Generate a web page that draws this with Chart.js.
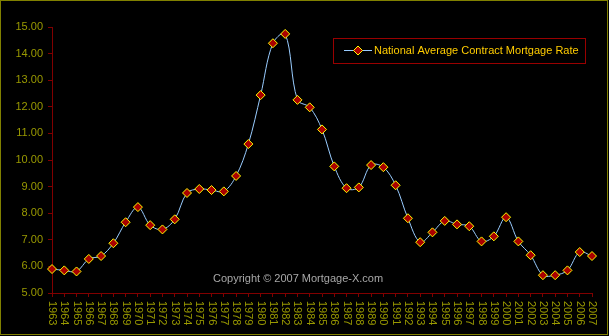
<!DOCTYPE html>
<html lang="en">
<head>
    <meta charset="UTF-8">
    <title>National Average Contract Mortgage Rate</title>
    <script src="https://cdn.jsdelivr.net/npm/chart.js"></script>
    <style>
        body {
            margin: 0;
            background-color: #000;
            overflow: hidden;
        }
        #wrap {
            width: 609px;
            height: 336px;
            position: relative;
        }
    </style>
</head>
<body>
    <div id="wrap"><canvas id="rateChart"></canvas></div>

    <script>
        const years = [];
        for (let y = 1963; y <= 2007; y++) years.push(String(y));

        const rates = [
            5.90, 5.85, 5.81, 6.28, 6.39, 6.87, 7.66, 8.23, 7.55, 7.39,
            7.77, 8.76, 8.91, 8.87, 8.82, 9.40, 10.60, 12.44, 14.39, 14.74,
            12.26, 11.98, 11.15, 9.76, 8.94, 8.97, 9.81, 9.73, 9.05, 7.81,
            6.91, 7.28, 7.71, 7.58, 7.51, 6.94, 7.13, 7.85, 6.94, 6.42,
            5.67, 5.67, 5.85, 6.54, 6.39
        ];

        const seriesName = 'National Average Contract Mortgage Rate';
        const copyright = 'Copyright \u00a9 2007 Mortgage-X.com';

        const FONT = '11px "Liberation Sans", Arial, sans-serif';

        // frame, legend box, copyright line and the top-to-bottom year labels
        const extras = {
            id: 'extras',
            afterDraw(chart) {
                const c = chart.ctx;
                c.save();
                c.strokeStyle = '#808000';
                c.lineWidth = 1;
                c.strokeRect(0.5, 0.5, 607, 334);

                c.strokeStyle = '#990000';
                c.strokeRect(333.5, 38.5, 252, 25);
                c.strokeStyle = '#99ccff';
                c.beginPath();
                c.moveTo(344, 50.5);
                c.lineTo(372, 50.5);
                c.stroke();
                c.fillStyle = '#aa0000';
                c.strokeStyle = '#ffff00';
                c.beginPath();
                c.moveTo(358, 46);
                c.lineTo(362.5, 50.5);
                c.lineTo(358, 55);
                c.lineTo(353.5, 50.5);
                c.closePath();
                c.fill();
                c.stroke();

                c.font = FONT;
                c.textBaseline = 'middle';
                c.fillStyle = '#ffcc00';
                c.fillText(seriesName, 374, 51);

                c.fillStyle = '#a8a8a8';
                c.fillText(copyright, 213, 279);

                const xs = chart.scales.x;
                c.fillStyle = '#999900';
                c.textAlign = 'left';
                years.forEach((lab, i) => {
                    c.save();
                    c.translate(Math.round(xs.getPixelForValue(i)), xs.top + 8);
                    c.rotate(Math.PI / 2);
                    c.fillText(lab, 0, 0);
                    c.restore();
                });
                c.restore();
            }
        };

        const ctx = document.getElementById('rateChart').getContext('2d');
        const chart = new Chart(ctx, {
            type: 'line',
            data: {
                labels: years,
                datasets: [{
                    label: seriesName,
                    data: rates,
                    borderColor: '#99ccff',
                    borderWidth: 1,
                    tension: 0.35,
                    pointStyle: 'rectRot',
                    pointRadius: 4.5,
                    pointBorderWidth: 1,
                    pointBackgroundColor: '#aa0000',
                    pointBorderColor: '#ffff00'
                }]
            },
            options: {
                responsive: true,
                maintainAspectRatio: false,
                animation: false,
                layout: { padding: { top: 27, right: 17, left: 0, bottom: 0 } },
                scales: {
                    x: {
                        offset: false,
                        grid: { display: true, drawOnChartArea: false, color: '#800000', tickLength: 4 },
                        border: { display: true, color: '#800000' },
                        ticks: {
                            color: 'rgba(0,0,0,0)',
                            font: { family: '"Liberation Sans", Arial, sans-serif', size: 11 },
                            minRotation: 90,
                            maxRotation: 90,
                            autoSkip: false,
                            padding: 3
                        },
                        afterFit(scale) { scale.height = 43; }
                    },
                    y: {
                        min: 5,
                        max: 15,
                        grid: { display: true, drawOnChartArea: false, color: '#800000', tickLength: 4 },
                        border: { display: true, color: '#800000' },
                        ticks: {
                            stepSize: 1,
                            color: '#999900',
                            font: { family: '"Liberation Sans", Arial, sans-serif', size: 11 },
                            padding: 5,
                            callback: v => v.toFixed(2)
                        },
                        afterFit(scale) { scale.width = 52; }
                    }
                },
                plugins: {
                    legend: { display: false },
                    title: { display: false },
                    tooltip: { enabled: false }
                }
            },
            plugins: [extras]
        });
    </script>
</body>
</html>
